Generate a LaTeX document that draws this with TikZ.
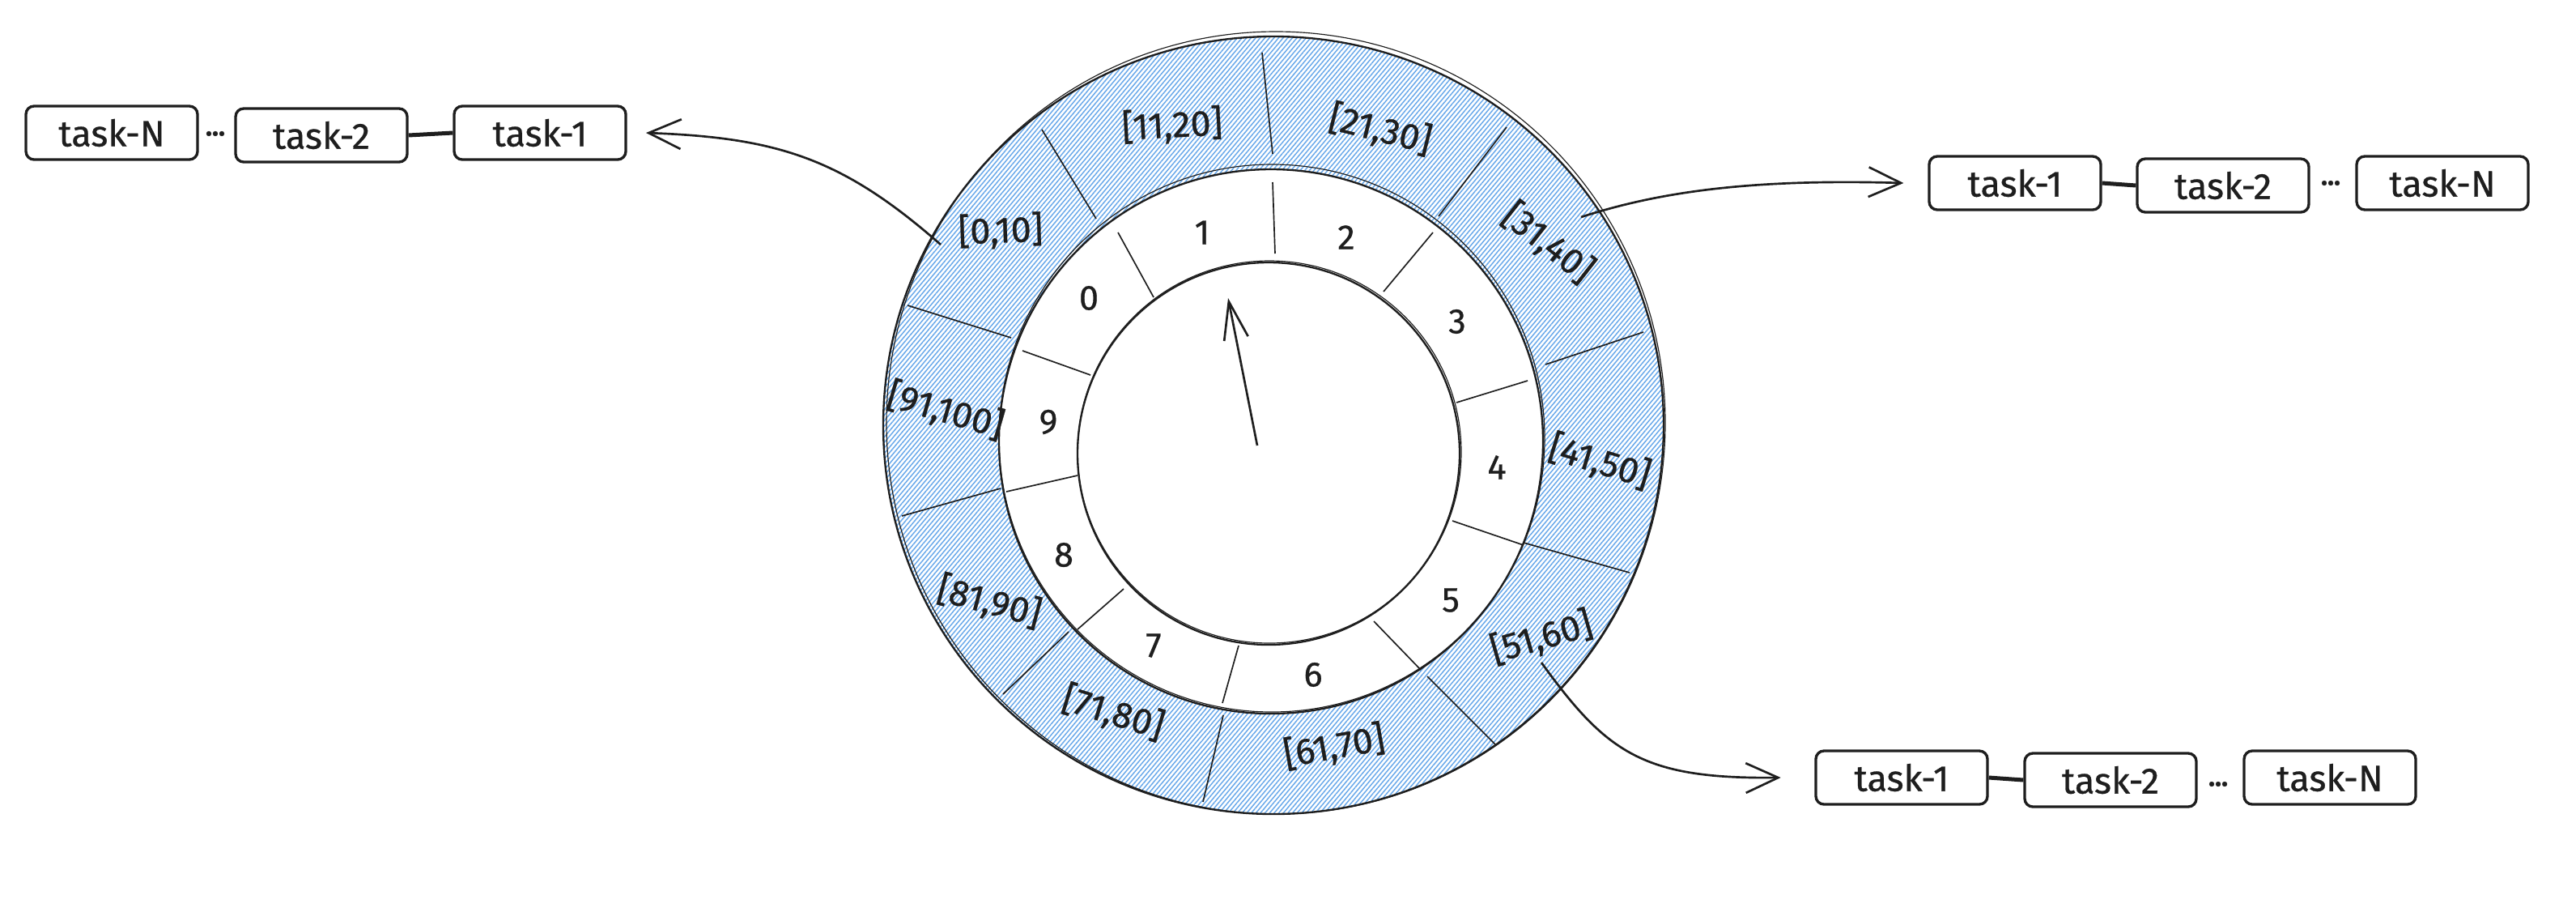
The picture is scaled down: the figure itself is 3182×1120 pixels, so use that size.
\documentclass[tikz,border=0pt]{standalone}
\usepackage{fontspec}
\setmainfont{Fira Sans}[FakeBold=0.6]
\usetikzlibrary{arrows.meta,patterns.meta,calc}
\definecolor{ink}{HTML}{1E1E1E}
\definecolor{hatch}{RGB}{104,168,234}
\begin{document}
\begin{tikzpicture}[x=0.3pt,y=-0.3pt,
  taskbox/.style={draw=ink, line width=1pt, rounded corners=3pt, minimum width=63.6pt, minimum height=19.8pt, inner sep=0pt, font=\fontsize{13.5}{15}\selectfont, text=ink, fill=white},
  rng/.style={font=\fontsize{13.5}{15}\selectfont, text=ink, inner sep=1pt},
  num/.style={font=\fontsize{13}{15}\selectfont, text=ink, inner sep=1pt},
  dotsnode/.style={font=\fontsize{10}{12}\selectfont\bfseries, text=ink, inner sep=0pt},
  link/.style={draw=ink, line width=1.5pt},
  ptr/.style={draw=ink, line width=0.8pt, -{Straight Barb[length=12pt,width=11pt]}},
  ring/.style={draw=ink, line width=0.7pt},
  ringb/.style={draw=ink, line width=0.35pt},
  divline/.style={draw=ink, line width=0.5pt}]
\useasboundingbox (0,0) rectangle (3182,1120);

% hatched outer ring
\fill[pattern={Lines[angle=50,distance=1.3pt,line width=0.45pt]}, pattern color=hatch, even odd rule]
  (1573,525) ellipse [x radius=482, y radius=480] (1570,545) circle [radius=336];

% circles (sketchy double strokes)
\draw[ring] (1573,525) ellipse [x radius=482, y radius=480];
\draw[ringb] (1576,522) ellipse [x radius=481, y radius=483];
\draw[ring] (1570,545) circle [radius=336];
\draw[ringb] (1571,541) ellipse [x radius=337, y radius=338];
\draw[ring] (1567,560) circle [radius=236];
\draw[ringb] (1568,558) ellipse [x radius=237, y radius=236];

% outer ring dividers
\draw[divline] (1559,65) -- (1572,190);
\draw[divline] (1861,157) -- (1777,267);
\draw[divline] (2030,410) -- (1909,450);
\draw[divline] (2013,707) -- (1882,670);
\draw[divline] (1848,920) -- (1763,835);
\draw[divline] (1486,990) -- (1511,883);
\draw[divline] (1239,857) -- (1320,780);
\draw[divline] (1114,637) -- (1236,603);
\draw[divline] (1121,377) -- (1249,417);
\draw[divline] (1287,160) -- (1354,270);

% inner ring dividers
\draw[divline] (1572,225) -- (1575,313);
\draw[divline] (1770,287) -- (1709,360);
\draw[divline] (1887,470) -- (1799,497);
\draw[divline] (1882,673) -- (1794,643);
\draw[divline] (1755,827) -- (1697,767);
\draw[divline] (1530,797) -- (1510,868);
\draw[divline] (1388,727) -- (1331,777);
\draw[divline] (1331,587) -- (1243,607);
\draw[divline] (1347,463) -- (1263,433);
\draw[divline] (1381,287) -- (1425,367);

% range labels
\node[rng, rotate=2]   (r0) at (1236,285) {[0,10]};
\node[rng, rotate=3]   (r1) at (1448,155) {[11,20]};
\node[rng, rotate=-14] (r2) at (1705,160) {[21,30]};
\node[rng, rotate=-38] (r3) at (1912,300) {[31,40]};
\node[rng, rotate=-17] (r4) at (1976,570) {[41,50]};
\node[rng, rotate=16]  (r5) at (1904,787) {[51,60]};
\node[rng, rotate=10]  (r6) at (1648,922) {[61,70]};
\node[rng, rotate=-17] (r7) at (1375,880) {[71,80]};
\node[rng, rotate=-15] (r8) at (1222,743) {[81,90]};
\node[rng, rotate=-16] (r9) at (1168,507) {[91,100]};

% slot numbers
\node[num] (n0) at (1345,368) {0};
\node[num] (n1) at (1485,287) {1};
\node[num] (n2) at (1663,293) {2};
\node[num] (n3) at (1800,397) {3};
\node[num] (n4) at (1849,577) {4};
\node[num] (n5) at (1792,741) {5};
\node[num] (n6) at (1622,833) {6};
\node[num] (n7) at (1425,797) {7};
\node[num] (n8) at (1314,685) {8};
\node[num] (n9) at (1295,521) {9};

% clock hand
\coordinate (hb) at (1553,550);
\coordinate (ht) at (1517,368);
\draw[draw=ink, line width=0.8pt, -{Straight Barb[length=14pt,width=9pt]}] (hb) -- (ht);

% task chains
\node[taskbox] (tNa) at (138,164) {task-N};
\node[dotsnode] (da) at (266,165) {...};
\node[taskbox] (t2a) at (397,167) {task-2};
\node[taskbox] (t1a) at (667,164) {task-1};
\draw[link] (t2a.east) -- (t1a.west);

\node[taskbox] (t1b) at (2489,226) {task-1};
\node[taskbox] (t2b) at (2746,229) {task-2};
\node[dotsnode] (db) at (2879,226) {...};
\node[taskbox] (tNb) at (3017,226) {task-N};
\draw[link] (t1b.east) -- (t2b.west);

\node[taskbox] (t1c) at (2349,960) {task-1};
\node[taskbox] (t2c) at (2607,963) {task-2};
\node[dotsnode] (dc) at (2740,968) {...};
\node[taskbox] (tNc) at (2878,960) {task-N};
\draw[link] (t1c.east) -- (t2c.west);

% pointers from slots to chains
\coordinate (s0) at (1162,302);
\coordinate (s3) at (1953,268);
\coordinate (s5) at (1904,818);
\draw[ptr] (s0) .. controls (1040,195) and (960,170) .. ([xshift=7pt]t1a.east);
\draw[ptr] (s3) .. controls (2040,240) and (2150,220) .. ([xshift=-9pt]t1b.west);
\draw[ptr] (s5) .. controls (1985,930) and (2030,962) .. ([xshift=-12.5pt]t1c.west);
\end{tikzpicture}
\end{document}
